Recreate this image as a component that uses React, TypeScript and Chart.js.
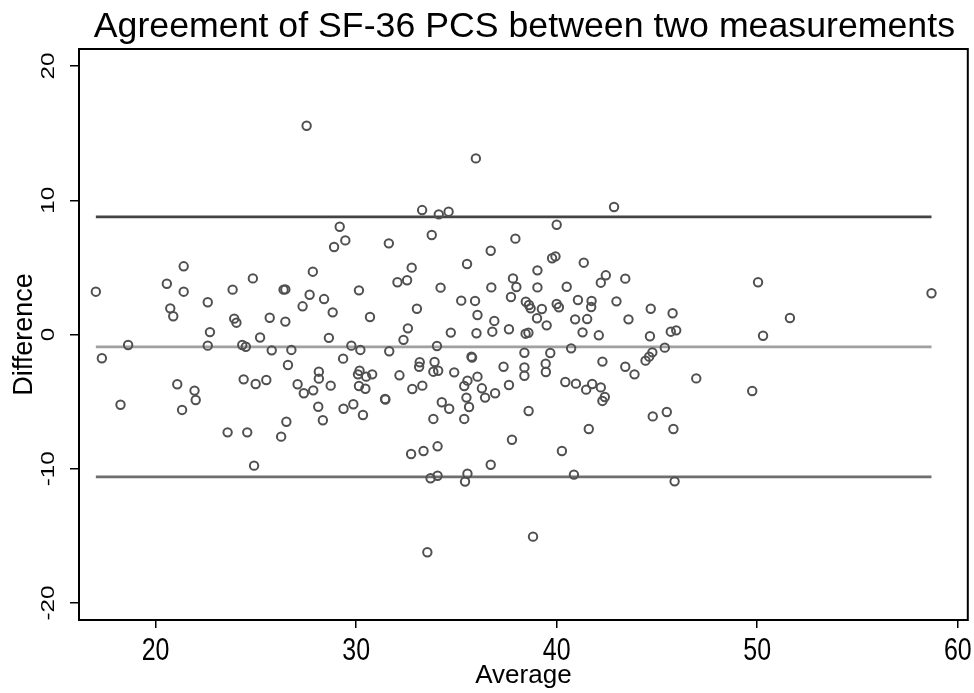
import React, { useEffect, useRef } from "react";
import { Chart, registerables } from "chart.js";

Chart.register(...registerables);

const chartTitle = "Agreement of SF-36 PCS between two measurements";
const xAxisTitle = "Average";
const yAxisTitle = "Difference";

const xTicks = [20, 30, 40, 50, 60];
const yTicks = [-20, -10, 0, 10, 20];

const meanDiff = -0.92;
const upperLoA = 8.77;
const lowerLoA = -10.61;

const averages = [
  17.02, 17.32, 18.25, 18.63, 20.56, 20.73, 20.88, 21.08, 21.32, 21.4,
  21.4, 21.94, 22.0, 22.6, 22.6, 22.71, 23.59, 23.84, 23.92, 24.03,
  24.32, 24.5, 24.39, 24.57, 24.85, 24.91, 24.99, 25.21, 25.52, 25.69,
  25.79, 26.26, 26.38, 26.47, 26.47, 26.52, 26.6, 26.77, 27.08, 27.33,
  27.39, 27.53, 27.68, 27.84, 27.86, 28.11, 28.14, 28.14, 28.34, 28.4,
  28.64, 28.73, 28.83, 28.9, 29.18, 29.35, 29.37, 29.46, 29.76, 29.86,
  30.09, 30.14, 30.14, 30.17, 30.21, 30.34, 30.46, 30.5, 30.69, 30.8,
  31.44, 31.46, 31.63, 31.65, 32.06, 32.16, 32.36, 32.54, 32.58, 32.74,
  32.77, 32.8, 33.03, 33.14, 33.17, 33.29, 33.3, 33.36, 33.55, 33.71,
  33.77, 33.85, 33.85, 33.91, 34.03, 34.06, 34.06, 34.09, 34.12, 34.21,
  34.27, 34.61, 34.64, 34.72, 34.89, 35.24, 35.39, 35.39, 35.43, 35.5,
  35.53, 35.55, 35.55, 35.63, 35.75, 35.78, 35.93, 35.97, 36.0, 36.05,
  36.05, 36.27, 36.43, 36.71, 36.71, 36.74, 36.79, 36.89, 36.93, 37.35,
  37.62, 37.62, 37.72, 37.77, 37.82, 37.94, 37.99, 38.39, 38.39, 38.39,
  38.45, 38.46, 38.59, 38.62, 38.7, 38.6, 38.82, 39.02, 39.04, 39.04,
  39.26, 39.45, 39.46, 39.5, 39.68, 39.77, 39.94, 40.0, 40.0, 40.11,
  40.26, 40.43, 40.5, 40.72, 40.86, 40.92, 40.96, 41.06, 41.29, 41.35,
  41.47, 41.52, 41.6, 41.72, 41.74, 41.77, 42.1, 42.2, 42.2, 42.28,
  42.28, 42.4, 42.45, 42.86, 42.98, 43.42, 43.42, 43.58, 43.88, 44.43,
  44.61, 44.65, 44.69, 44.77, 44.79, 45.39, 45.49, 45.69, 45.78, 45.82,
  45.88, 45.96, 46.96, 49.75, 50.04, 50.29, 51.63, 58.69
];

const differences = [
  3.19, -1.77, -5.23, -0.78, 3.78, 1.95, 1.36, -3.71, -5.62, 5.08,
  3.19, -4.18, -4.88, 2.4, -0.83, 0.18, -7.29, 3.34, 1.18, 0.88,
  -0.78, -0.91, -3.34, -7.29, 4.18, -9.77, -3.69, -0.22, -3.39, 1.25,
  -1.18, -7.61, 3.34, 3.36, 0.96, -6.5, -2.27, -1.15, -3.71, 2.1,
  -4.38, 15.55, 2.96, 4.68, -4.16, -5.38, -2.77, -3.29, -6.39, 2.64,
  -0.25, -3.81, 1.65, 6.52, 8.03, -1.8, -5.53, 7.01, -0.83, -5.2,
  -2.97, 3.29, -3.84, -2.7, -1.15, -6.0, -4.04, -3.14, 1.3, -2.97,
  -4.8, -4.84, 6.79, -1.25, 3.89, -3.04, -0.4, 4.04, 0.46, -8.9,
  4.98, -4.06, 1.92, -2.4, -2.07, 9.27, -3.81, -8.68, -16.22, -10.71,
  7.41, -2.77, -6.29, -2.05, -0.86, -8.33, -10.52, -2.7, 8.95, 3.49,
  -5.05, 9.15, -5.53, 0.14, -2.82, 2.52, -3.84, -6.29, -10.96, -4.7,
  5.25, -3.44, -10.37, -5.4, -1.65, -1.72, 2.5, 13.12, 0.09, 1.45,
  -3.14, -4.01, -4.7, 6.24, -9.7, 3.51, 0.21, 1.01, -4.38, -2.4,
  0.39, -3.76, 2.79, -7.84, 4.18, 7.14, 3.54, -1.36, -2.45, -3.07,
  0.06, 2.44, 0.13, 2.2, 1.95, -5.7, -15.06, 1.21, 4.78, 3.51,
  1.9, -2.17, -2.79, 0.68, -1.38, 5.68, 5.82, 8.18, 2.27, 2.03,
  -8.68, -3.54, 3.56, -1.03, -10.44, 1.13, -3.66, 2.57, 0.16, 5.35,
  -4.11, 1.15, -7.04, 2.05, 2.5, -3.69, -0.06, 3.86, -3.94, -2.02,
  -4.95, -4.66, 4.41, 9.5, 2.47, 4.16, -2.4, 1.13, -2.97, -1.95,
  -1.65, -0.13, 1.92, -1.33, -6.1, -0.98, -5.77, 0.21, 1.58, -7.04,
  -10.94, 0.31, -3.27, -4.21, 3.89, -0.09, 1.23, 3.07
];

const textPlugin = {
  id: "customText",
  afterDraw(chart: any) {
    const { ctx, chartArea, scales } = chart;
    ctx.save();
    // frame
    ctx.strokeStyle = "#000";
    ctx.lineWidth = 2;
    ctx.strokeRect(
      chartArea.left,
      chartArea.top,
      chartArea.right - chartArea.left,
      chartArea.bottom - chartArea.top
    );
    ctx.fillStyle = "#000";
    ctx.textAlign = "center";
    ctx.textBaseline = "alphabetic";
    // title
    ctx.font = '34px "Liberation Sans", Arial, sans-serif';
    ctx.save();
    ctx.translate((chartArea.left + chartArea.right) / 2 + 1, 37);
    ctx.scale(1.05, 1.03);
    ctx.fillText(chartTitle, 0, 0);
    ctx.restore();
    // y tick labels (rotated)
    ctx.font = '19px "Liberation Sans", Arial, sans-serif';
    for (const v of yTicks) {
      const y = scales.y.getPixelForValue(v);
      ctx.save();
      ctx.translate(54, y);
      ctx.rotate(-Math.PI / 2);
      ctx.scale(1.28, 1);
      ctx.fillText(String(v), 0, 0);
      ctx.restore();
    }
    // x tick labels
    ctx.font = '32px "Liberation Sans", Arial, sans-serif';
    for (const v of xTicks) {
      const x = scales.x.getPixelForValue(v);
      ctx.save();
      ctx.translate(x, 660);
      ctx.scale(0.78, 1);
      ctx.fillText(String(v), 0, 0);
      ctx.restore();
    }
    ctx.restore();
  },
};

export default function App() {
  const canvasRef = useRef<HTMLCanvasElement | null>(null);

  useEffect(() => {
    document.body.style.margin = "0";
    const canvas = canvasRef.current;
    if (!canvas) return;
    const minAvg = Math.min(...averages);
    const maxAvg = Math.max(...averages);
    const points = averages.map((a, i) => ({ x: a, y: differences[i] }));
    const hLine = (v: number) => [
      { x: minAvg, y: v },
      { x: maxAvg, y: v },
    ];

    const chart = new Chart(canvas, {
      type: "scatter",
      data: {
        datasets: [
          {
            type: "line",
            label: "Upper limit",
            data: hLine(upperLoA),
            borderColor: "#444444",
            borderWidth: 2.8,
            pointRadius: 0,
            order: 3,
          },
          {
            type: "line",
            label: "Mean difference",
            data: hLine(meanDiff),
            borderColor: "#a0a0a0",
            borderWidth: 2.6,
            pointRadius: 0,
            order: 3,
          },
          {
            type: "line",
            label: "Lower limit",
            data: hLine(lowerLoA),
            borderColor: "#6e6e6e",
            borderWidth: 2.6,
            pointRadius: 0,
            order: 3,
          },
          {
            type: "scatter",
            label: "Difference",
            data: points,
            pointStyle: "circle",
            pointRadius: 4.2,
            pointBorderWidth: 2,
            pointBorderColor: "#505050",
            pointBackgroundColor: "rgba(255,255,255,0)",
            order: 1,
          },
        ],
      } as any,
      options: {
        animation: false,
        responsive: false,
        devicePixelRatio: 1,
        layout: { padding: { left: 0, right: 2, top: 49, bottom: 0 } },
        plugins: {
          legend: { display: false },
          tooltip: { enabled: false },
          title: { display: false },
        },
        scales: {
          x: {
            type: "linear",
            min: 16.18,
            max: 60.5,
            border: { display: false },
            grid: {
              display: true,
              drawOnChartArea: false,
              drawTicks: true,
              tickLength: 8,
              tickColor: "#000",
              lineWidth: 1.5,
            },
            ticks: { display: false },
            afterBuildTicks: (scale: any) => {
              scale.ticks = xTicks.map((v) => ({ value: v }));
            },
            afterFit: (scale: any) => {
              scale.height = 73;
            },
            title: {
              display: true,
              text: xAxisTitle,
              color: "#000",
              font: { family: '"Liberation Sans", Arial, sans-serif', size: 26 },
              padding: { top: 0, bottom: 2 },
            },
          },
          y: {
            type: "linear",
            min: -21.27,
            max: 21.27,
            border: { display: false },
            grid: {
              display: true,
              drawOnChartArea: false,
              drawTicks: true,
              tickLength: 9,
              tickColor: "#000",
              lineWidth: 1.5,
            },
            ticks: { display: false },
            afterBuildTicks: (scale: any) => {
              scale.ticks = yTicks.map((v) => ({ value: v }));
            },
            afterFit: (scale: any) => {
              scale.width = 79;
            },
            title: {
              display: true,
              text: yAxisTitle,
              color: "#000",
              font: { family: '"Liberation Sans", Arial, sans-serif', size: 27 },
              padding: { top: 8, bottom: 0 },
            },
          },
        },
      } as any,
      plugins: [textPlugin],
    });
    return () => chart.destroy();
  }, []);

  return (
    <div style={{ width: 974, height: 693, background: "#fff" }}>
      <canvas ref={canvasRef} width={974} height={693} />
    </div>
  );
}
